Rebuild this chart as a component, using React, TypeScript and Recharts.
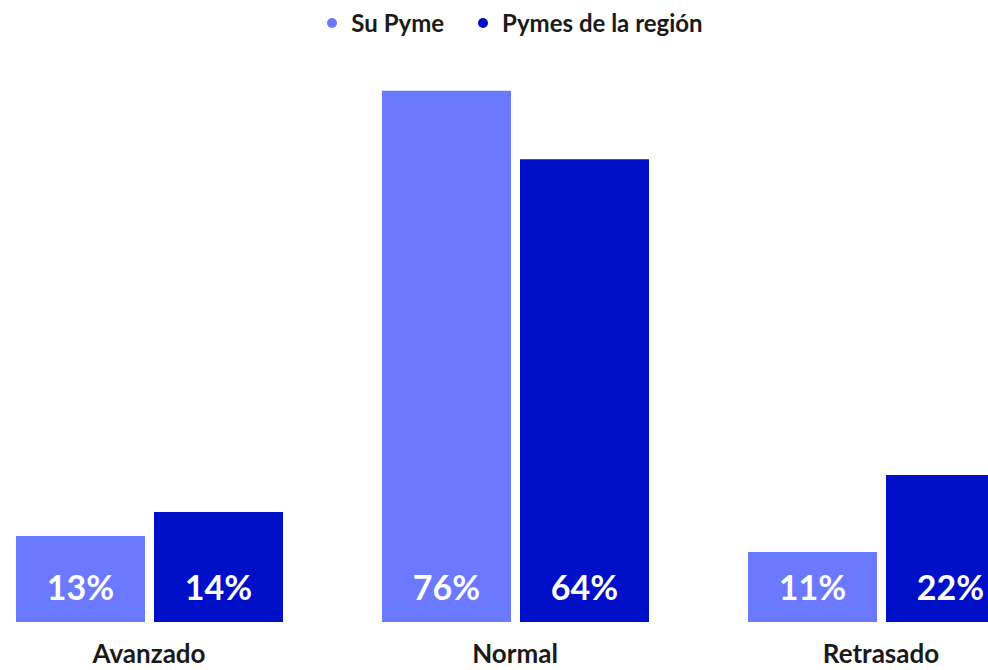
import { BarChart, Bar, XAxis, YAxis, Legend, LabelList } from 'recharts';

const categories = ['Avanzado', 'Normal', 'Retrasado'];
// bar lengths as drawn, and the percentages printed on them
const suPyme = [12.3, 75.9, 10.0];
const region = [15.7, 66.1, 21.0];
const suPymeLabels = [13, 76, 11];
const regionLabels = [14, 64, 22];

const SERIES = [
  { key: 'suPyme', name: 'Su Pyme', color: '#6a79ff' },
  { key: 'region', name: 'Pymes de la región', color: '#000fc8' },
];

const FONT = 'Lato, "Open Sans", sans-serif';

const data = categories.map((name, i) => ({
  name,
  suPyme: suPyme[i],
  region: region[i],
  suPymeLabel: suPymeLabels[i],
  regionLabel: regionLabels[i],
}));

function InsideLabel(props: any) {
  const { x, y, width, height, value } = props;
  return (
    <text
      x={x + width / 2}
      y={y + height - 36}
      textAnchor="middle"
      dominantBaseline="central"
      fill="#ffffff"
      fontFamily={FONT}
      fontWeight={700}
      fontSize={34}
    >
      {value}%
    </text>
  );
}

function CategoryTick(props: any) {
  const { x, y, payload } = props;
  return (
    <text
      x={x}
      y={y + 33}
      textAnchor="middle"
      fill="#1a1a1a"
      fontFamily={FONT}
      fontWeight={700}
      fontSize={26}
    >
      {payload.value}
    </text>
  );
}

function LegendContent() {
  return (
    <div
      style={{
        height: 62,
        display: 'flex',
        justifyContent: 'center',
        alignItems: 'flex-start',
        gap: 34,
        fontFamily: FONT,
        fontWeight: 700,
        fontSize: 24,
        color: '#1a1a1a',
        lineHeight: '46px',
      }}
    >
      {SERIES.map((s) => (
        <div key={s.key} style={{ display: 'flex', alignItems: 'center', height: 46 }}>
          <span
            style={{
              width: 10,
              height: 10,
              borderRadius: '50%',
              background: s.color,
              marginRight: 14,
              display: 'inline-block',
            }}
          />
          {s.name}
        </div>
      ))}
    </div>
  );
}

export default function App() {
  return (
    <div
      style={{
        position: 'absolute',
        left: 0,
        top: 0,
        width: 988,
        height: 670,
        overflow: 'hidden',
        background: '#ffffff',
      }}
    >
      <div style={{ position: 'absolute', left: -34, top: 0 }}>
        <BarChart
          width={1098}
          height={700}
          data={data}
          margin={{ top: 0, right: 0, bottom: 0, left: 0 }}
          barCategoryGap={49.5}
          barGap={9}
        >
          <Legend verticalAlign="top" align="center" content={<LegendContent />} />
          <XAxis
            dataKey="name"
            height={78}
            axisLine={false}
            tickLine={false}
            tick={<CategoryTick />}
            interval={0}
          />
          <YAxis hide domain={[0, 80]} />
          {SERIES.map((s) => (
            <Bar
              key={s.key}
              dataKey={s.key}
              name={s.name}
              fill={s.color}
              barSize={129}
              isAnimationActive={false}
            >
              <LabelList dataKey={`${s.key}Label`} content={<InsideLabel />} />
            </Bar>
          ))}
        </BarChart>
      </div>
    </div>
  );
}
